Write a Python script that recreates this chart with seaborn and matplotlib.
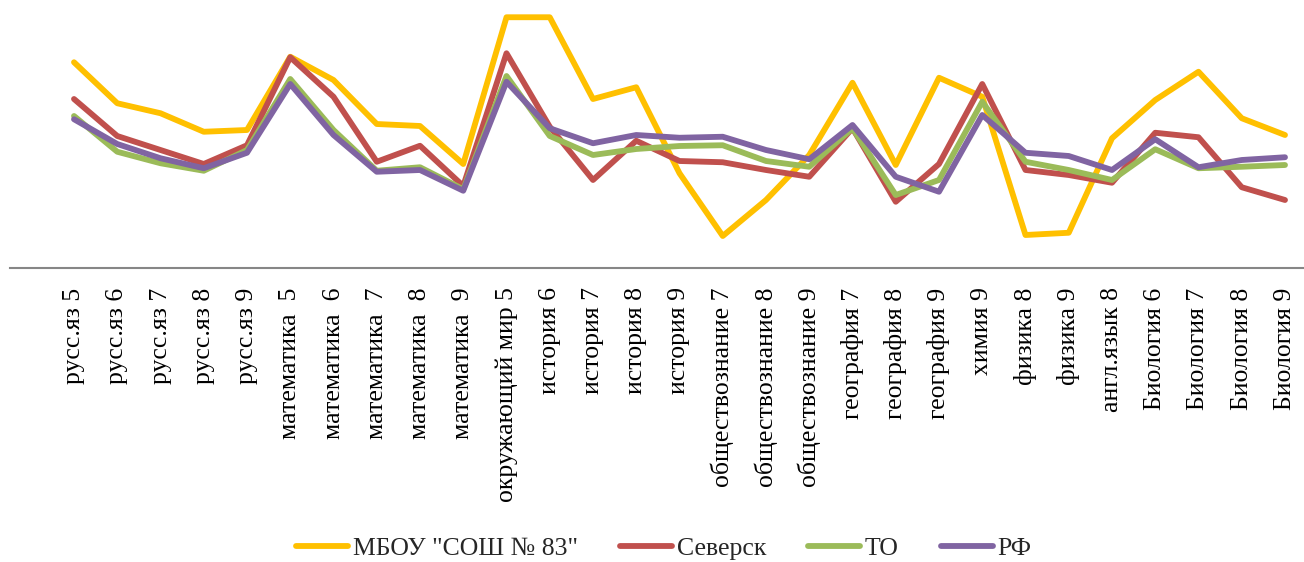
import numpy as np
import pandas as pd
import matplotlib
matplotlib.use("Agg")
import matplotlib.pyplot as plt
import seaborn as sns

categories = ["русс.яз 5", "русс.яз 6", "русс.яз 7", "русс.яз 8", "русс.яз 9",
              "математика  5", "математика  6", "математика  7", "математика  8", "математика  9",
              "окружающий мир 5", "история 6", "история 7", "история 8", "история 9",
              "обществознание 7", "обществознание 8", "обществознание 9",
              "география 7", "география 8", "география 9", "химия 9",
              "физика 8", "физика 9", "англ.язык 8",
              "Биология 6", "Биология 7", "Биология 8", "Биология 9"]

school = [82.3, 65.9, 61.9, 54.5, 55.2, 84.5, 75.2, 57.6, 56.8, 41.6,
          100.3, 100.3, 67.6, 72.3, 37.9, 12.8, 27.2, 45.2, 74.1, 41.2,
          76.1, 68.5, 13.2, 14.1, 51.9, 67.2, 78.5, 59.9, 53.2]
seversk = [67.6, 52.8, 47.2, 41.6, 49.1, 84.3, 68.5, 42.5, 48.9, 32.8,
           85.9, 56.5, 35.2, 50.9, 42.8, 42.3, 39.2, 36.5, 55.9, 26.5,
           41.6, 73.6, 39.2, 37.2, 34.1, 54.1, 52.3, 32.3, 27.2]
to_region = [60.8, 46.5, 41.9, 38.9, 47.2, 75.6, 55.2, 38.9, 40.3, 31.5,
             76.8, 52.8, 45.2, 47.6, 48.8, 49.1, 42.8, 40.5, 55.9, 29.2,
             35.2, 66.5, 42.5, 39.2, 35.2, 47.5, 39.9, 40.5, 41.2]
rf = [59.5, 49.6, 43.9, 39.9, 46.1, 73.6, 53.2, 38.5, 39.2, 30.9,
      74.5, 55.9, 49.9, 53.2, 52.1, 52.5, 47.2, 43.5, 57.2, 36.5,
      30.5, 61.2, 46.1, 44.8, 39.2, 51.5, 40.3, 43.2, 44.3]

series_names = ['МБОУ "СОШ № 83"', "Северск", "ТО", "РФ"]
colors = ["#FFC000", "#C0504D", "#9BBB59", "#8064A2"]

frames = []
for name, vals in zip(series_names, [school, seversk, to_region, rf]):
    frames.append(pd.DataFrame({"cat": categories, "val": vals, "series": name}))
df = pd.concat(frames, ignore_index=True)

sns.set_theme(style="white")
plt.rcParams["font.family"] = ["Liberation Serif", "DejaVu Serif"]

fig = plt.figure(figsize=(13.04, 5.62), dpi=100)
ax = fig.add_axes([10 / 1304, 294 / 562, 1 - 10 / 1304, 260 / 562])

sns.lineplot(data=df, x="cat", y="val", hue="series", hue_order=series_names,
             palette=colors, linewidth=4.2, sort=False, ax=ax, legend=True)

ax.set_xlim((10 - 74) / 43.25, (1304 - 74) / 43.25)
ax.set_ylim(0, 104)
ax.set_xlabel("")
ax.set_ylabel("")
ax.set_yticks([])
for s in ["left", "right", "top"]:
    ax.spines[s].set_visible(False)
ax.spines["bottom"].set_color("#868686")
ax.spines["bottom"].set_linewidth(1.5)
ax.tick_params(axis="x", length=0, pad=14, labelsize=18.5, labelcolor="black")
plt.setp(ax.get_xticklabels(), rotation=90, va="top", ha="center")

handles, labels = ax.get_legend_handles_labels()
ax.get_legend().remove()
leg = fig.legend(handles, labels, loc="center", bbox_to_anchor=(664 / 1304, 0.024),
                 ncol=4, frameon=False, fontsize=18.5, handlelength=2.0,
                 columnspacing=1.65, handletextpad=0.2)
for h in leg.get_lines():
    h.set_linewidth(4.2)

fig.savefig("out.png", dpi=100)
